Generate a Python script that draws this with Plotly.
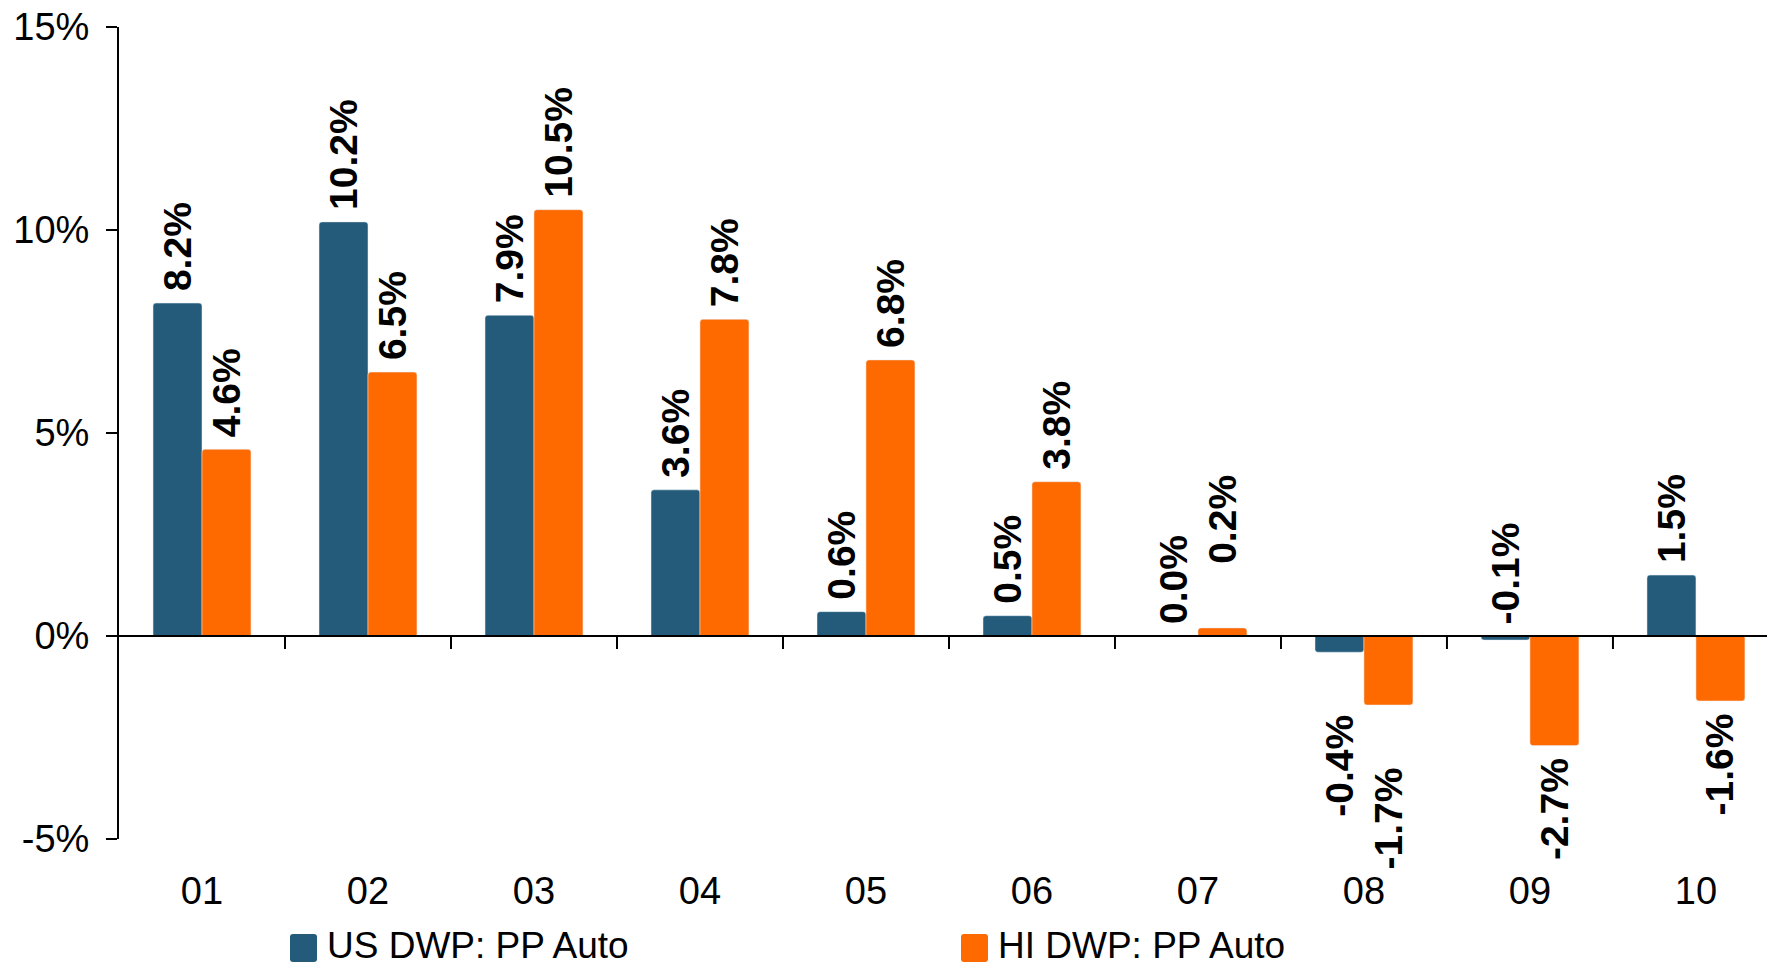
import plotly.graph_objects as go

# Year-over-year change in direct written premium, private passenger auto (%)
years = ["01", "02", "03", "04", "05", "06", "07", "08", "09", "10"]
us_dwp = [8.2, 10.2, 7.9, 3.6, 0.6, 0.5, 0.0, -0.4, -0.1, 1.5]
hi_dwp = [4.6, 6.5, 10.5, 7.8, 6.8, 3.8, 0.2, -1.7, -2.7, -1.6]
series_names = ["US DWP: PP Auto", "HI DWP: PP Auto"]
y_ticks = [-5, 0, 5, 10, 15]
y_tick_text = ["-5%", "0%", "5%", "10%", "15%"]

# Styling / layout
COLORS = ["#245B7A", "#FF6A00"]
FONT = "Liberation Sans, Arial, sans-serif"
W, H = 1767, 967
ML, MR, MT, MB = 119, 0, 27, 128
BARGAP = 0.41
X_RANGE = [-0.5, 9.428]
HALF = (1 - BARGAP) / 4          # offset of each bar centre from its category centre
LABEL_GAP = 10                   # px between bar end and its value label

# label tweaks: kept above the axis, or pushed further away from the bar
LABEL_ABOVE_AXIS = {(0, 8)}
LABEL_EXTRA = {(1, 6): 52, (0, 7): 50, (1, 7): 50}

plot_w = W - ML - MR
plot_h = H - MT - MB


def px_x(px):
    return (px - ML) / plot_w


def px_y(py):
    return (H - MB - py) / plot_h


fig = go.Figure()
series = [us_dwp, hi_dwp]
for name, vals, color in zip(series_names, series, COLORS):
    fig.add_bar(x=years, y=vals, name=name, marker=dict(color=color, cornerradius=3),
                showlegend=False)

annotations = []
for si, vals in enumerate(series):
    off = -HALF if si == 0 else HALF
    for i, v in enumerate(vals):
        above = v >= 0 or (si, i) in LABEL_ABOVE_AXIS
        anchor_y = v if (v >= 0 or not above) else 0
        shift = LABEL_GAP + LABEL_EXTRA.get((si, i), 0)
        annotations.append(dict(
            x=i + off, y=anchor_y, xref="x", yref="y",
            text=f"{v:.1f}%", textangle=-90, showarrow=False,
            xanchor="center", yanchor="bottom" if above else "top",
            yshift=shift if above else -shift,
            font=dict(family=FONT, size=39, color="black", weight="bold"),
        ))

shapes = [
    # zero line drawn over the bars
    dict(type="line", xref="paper", yref="y", x0=0, x1=1, y0=0, y1=0,
         line=dict(color="black", width=2), layer="above"),
]
# category boundary ticks hanging from the zero line
for i in range(1, len(years)):
    shapes.append(dict(type="line", xref="x", yref="y", ysizemode="pixel", yanchor=0,
                       x0=i - 0.5, x1=i - 0.5, y0=0, y1=-13,
                       line=dict(color="black", width=2), layer="above"))


def rounded_rect(x0, y0, x1, y1, r):
    # pixel box -> paper-space path with rounded corners
    X = lambda p: px_x(p)
    Y = lambda p: px_y(p)
    return (f"M{X(x0 + r)},{Y(y0)} L{X(x1 - r)},{Y(y0)} Q{X(x1)},{Y(y0)} {X(x1)},{Y(y0 + r)} "
            f"L{X(x1)},{Y(y1 - r)} Q{X(x1)},{Y(y1)} {X(x1 - r)},{Y(y1)} "
            f"L{X(x0 + r)},{Y(y1)} Q{X(x0)},{Y(y1)} {X(x0)},{Y(y1 - r)} "
            f"L{X(x0)},{Y(y0 + r)} Q{X(x0)},{Y(y0)} {X(x0 + r)},{Y(y0)} Z")


# legend: swatch + label for each series
legend_items = [(290, 326), (961, 997)]
for (sx, tx), name, color in zip(legend_items, series_names, COLORS):
    shapes.append(dict(type="path", xref="paper", yref="paper",
                       path=rounded_rect(sx, 934, sx + 27, 962, 3),
                       fillcolor=color, line=dict(width=0)))
    annotations.append(dict(x=px_x(tx), y=px_y(966.5), xref="paper", yref="paper",
                            text=name, showarrow=False, xanchor="left", yanchor="bottom",
                            borderpad=0,
                            font=dict(family=FONT, size=37, color="black")))

fig.update_layout(
    width=W, height=H,
    margin=dict(l=ML, r=MR, t=MT, b=MB, pad=0),
    paper_bgcolor="white", plot_bgcolor="white",
    barmode="group", bargap=BARGAP, bargroupgap=0,
    font=dict(family=FONT, color="black"),
    annotations=annotations, shapes=shapes,
    showlegend=False,
)
fig.update_xaxes(type="category", range=X_RANGE, showgrid=False, zeroline=False,
                 showline=False, ticks="", ticklabelstandoff=26,
                 tickfont=dict(family=FONT, size=38, color="black"))
fig.update_yaxes(range=[-5, 15], tickvals=y_ticks, ticktext=y_tick_text,
                 showgrid=False, zeroline=False, showline=True, linecolor="black",
                 linewidth=2, ticks="outside", ticklen=11, tickwidth=2, tickcolor="black",
                 ticklabelstandoff=9,
                 tickfont=dict(family=FONT, size=38, color="black"))

fig.write_html("out.html")
